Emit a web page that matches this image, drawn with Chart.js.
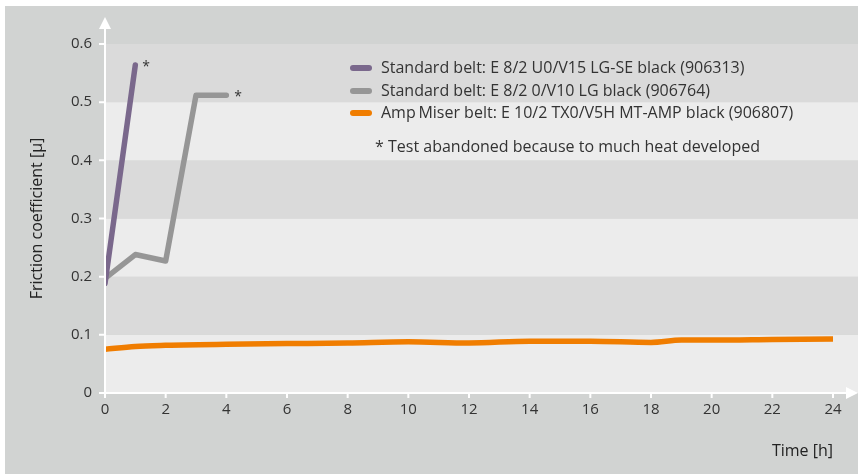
<!DOCTYPE html>
<html>
<head>
<meta charset="utf-8">
<script src="https://cdn.jsdelivr.net/npm/chart.js@4"></script>
<style>
  html, body { margin: 0; padding: 0; background: #fff; }
  #wrap { width: 858px; height: 474px; }
</style>
</head>
<body>
<div id="wrap"><canvas id="frictionChart"></canvas></div>
<script>
// values
const purpleHours = [0, 1];
const purpleValues = [0.188, 0.564];
const grayHours = [0, 1, 2, 3, 4];
const grayValues = [0.197, 0.238, 0.227, 0.512, 0.512];
const orangeHours = [0, 1, 2, 4, 6, 8, 10, 12, 14, 16, 18, 19, 20, 22, 24];
const orangeValues = [0.075, 0.080, 0.082, 0.084, 0.085, 0.086, 0.088, 0.086, 0.089, 0.089, 0.087, 0.091, 0.091, 0.092, 0.093];

const seriesLabels = [
  'Standard belt: E 8/2 U0/V15 LG-SE black (906313)',
  'Standard belt: E 8/2 0/V10 LG black (906764)',
  'Amp\u2009Miser belt: E 10/2 TX0/V5H MT-AMP black (906807)'
];
const footnote = '* Test abandoned because to much heat developed';
const yTicks = [0, 0.1, 0.2, 0.3, 0.4, 0.5, 0.6];
const xTicks = [0, 2, 4, 6, 8, 10, 12, 14, 16, 18, 20, 22, 24];

const FONT = '"Open Sans", "Noto Sans", sans-serif';
const TEXT = '#333333';

const toPoints = (xs, ys) => xs.map((x, i) => ({ x: x, y: ys[i] }));

// background, bands, white axes with arrows, legend, asterisks
const decor = {
  id: 'decor',
  beforeDraw(chart) {
    const ctx = chart.ctx;
    const area = chart.chartArea;
    const y = chart.scales.y;
    ctx.save();
    ctx.fillStyle = '#d1d3d2';
    ctx.fillRect(5, 6, chart.width - 5, chart.height - 6);
    for (let i = 0; i < yTicks.length - 1; i++) {
      const top = y.getPixelForValue(yTicks[i + 1]);
      const bot = y.getPixelForValue(yTicks[i]);
      ctx.fillStyle = i % 2 === 0 ? '#ececec' : '#dadada';
      ctx.fillRect(area.left, top, chart.width - area.left, bot - top);
    }
    ctx.restore();
  },
  afterDatasetsDraw(chart) {
    const ctx = chart.ctx;
    const area = chart.chartArea;
    const x = chart.scales.x;
    const y = chart.scales.y;
    const x0 = area.left, y0 = area.bottom;
    ctx.save();
    ctx.strokeStyle = '#ffffff';
    ctx.fillStyle = '#ffffff';
    ctx.lineWidth = 2;
    ctx.beginPath();
    ctx.moveTo(x0, y0); ctx.lineTo(x0, 26);
    ctx.moveTo(x0, y0); ctx.lineTo(chart.width - 10, y0);
    yTicks.forEach(v => {
      const py = y.getPixelForValue(v);
      ctx.moveTo(x0 - 6, py); ctx.lineTo(x0, py);
    });
    xTicks.forEach(v => {
      const px = x.getPixelForValue(v);
      ctx.moveTo(px, y0); ctx.lineTo(px, y0 + 5);
    });
    ctx.stroke();
    // arrow heads
    ctx.beginPath();
    ctx.moveTo(x0, 17); ctx.lineTo(x0 - 6, 29); ctx.lineTo(x0 + 6, 29); ctx.closePath();
    ctx.fill();
    ctx.beginPath();
    ctx.moveTo(chart.width, y0); ctx.lineTo(chart.width - 12, y0 - 6); ctx.lineTo(chart.width - 12, y0 + 6); ctx.closePath();
    ctx.fill();

    // asterisks at the ends of abandoned tests
    ctx.fillStyle = TEXT;
    ctx.font = '14px ' + FONT;
    ctx.textBaseline = 'middle';
    ctx.textAlign = 'left';
    const last = (xs, ys) => [x.getPixelForValue(xs[xs.length - 1]), y.getPixelForValue(ys[ys.length - 1])];
    let p = last(purpleHours, purpleValues);
    ctx.fillText('*', p[0] + 7, p[1] + 2);
    p = last(grayHours, grayValues);
    ctx.fillText('*', p[0] + 8, p[1] + 2);

    // legend
    const rows = [68, 91, 113];
    ctx.font = '16px ' + FONT;
    chart.data.datasets.forEach((ds, i) => {
      ctx.strokeStyle = ds.borderColor;
      ctx.lineWidth = 6;
      ctx.lineCap = 'round';
      ctx.beginPath();
      ctx.moveTo(353, rows[i]); ctx.lineTo(369, rows[i]);
      ctx.stroke();
      ctx.fillStyle = TEXT;
      ctx.fillText(seriesLabels[i], 381, rows[i]);
    });
    ctx.fillText(footnote, 375, 147);
    ctx.restore();
  }
};

const ctx = document.getElementById('frictionChart').getContext('2d');
const frictionChart = new Chart(ctx, {
  type: 'line',
  data: {
    datasets: [
      {
        label: seriesLabels[0],
        data: toPoints(purpleHours, purpleValues),
        borderColor: '#7a688c',
        borderWidth: 5.5
      },
      {
        label: seriesLabels[1],
        data: toPoints(grayHours, grayValues),
        borderColor: '#969696',
        borderWidth: 5.5
      },
      {
        label: seriesLabels[2],
        data: toPoints(orangeHours, orangeValues),
        borderColor: '#f07d00',
        borderWidth: 5.5,
        cubicInterpolationMode: 'monotone'
      }
    ]
  },
  options: {
    responsive: true,
    maintainAspectRatio: false,
    animation: false,
    elements: {
      point: { radius: 0 },
      line: { borderCapStyle: 'round', borderJoinStyle: 'round', fill: false }
    },
    layout: { padding: { left: 5, top: 44, right: 25, bottom: 0 } },
    plugins: {
      legend: { display: false },
      tooltip: { enabled: false }
    },
    scales: {
      x: {
        type: 'linear',
        min: 0,
        max: 24,
        afterBuildTicks: s => { s.ticks = xTicks.map(v => ({ value: v })); },
        afterFit: s => { s.height = 81; },
        grid: { display: false, drawTicks: false },
        border: { display: false },
        ticks: { color: TEXT, font: { family: FONT, size: 15 }, padding: 8, maxRotation: 0 },
        title: {
          display: true,
          text: 'Time [h]',
          align: 'end',
          color: '#222222',
          font: { family: FONT, size: 16 },
          padding: { top: 0, bottom: 13 }
        }
      },
      y: {
        min: 0,
        max: 0.6,
        afterBuildTicks: s => { s.ticks = yTicks.map(v => ({ value: v })); },
        afterFit: s => { s.width = 100; },
        grid: { display: false, drawTicks: false },
        border: { display: false },
        ticks: { color: TEXT, font: { family: FONT, size: 15 }, padding: 13 },
        title: {
          display: true,
          text: 'Friction coefficient [\u00b5]',
          color: '#222222',
          font: { family: FONT, size: 16 },
          padding: { top: 23, bottom: 0 }
        }
      }
    }
  },
  plugins: [decor]
});
</script>
</body>
</html>
